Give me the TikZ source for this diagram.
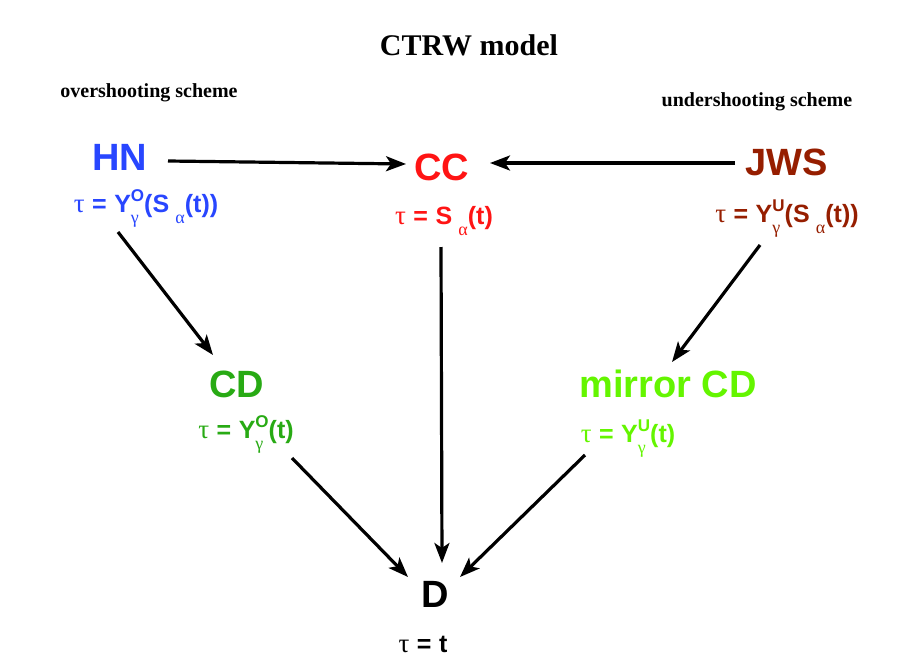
\documentclass[tikz,border=0pt]{standalone}
\usepackage{fontspec}
\setmainfont{Liberation Sans}
\newfontfamily\tms{Liberation Serif}
\usetikzlibrary{arrows.meta,calc}
\definecolor{hnblue}{RGB}{40,70,255}
\definecolor{ccred}{RGB}{255,20,20}
\definecolor{jwsred}{RGB}{150,30,0}
\definecolor{cdgreen}{RGB}{40,170,20}
\definecolor{mcdgreen}{RGB}{100,245,0}
\newcommand\fsz{\fontsize{25}{27}\selectfont}
\newcommand\ssz{\fontsize{17}{18}\selectfont}
\newcommand\gk[1]{{\tms\mdseries\fontsize{27}{28}\selectfont #1}}
\newcommand\gs[1]{{\tms\mdseries\fontsize{18}{19}\selectfont #1}}
\newcommand\YY[1]{Y\rlap{\raisebox{-0.45em}{\gs{γ}}}\raisebox{0.42em}{\ssz #1}}
\newcommand\Sa{S\hspace{0.25em}\raisebox{-0.45em}{\gs{α}}}
\newcommand\tq{\gk{τ}\hspace{0.3em}=\hspace{0.3em}}
\tikzset{
  lbl/.style={inner sep=0pt, anchor=base, font=\fontsize{38}{40}\selectfont\bfseries},
  frm/.style={inner sep=0pt, anchor=base, font=\fsz\bfseries},
  ttl/.style={inner sep=0pt, anchor=base, font=\tms\fontsize{30}{32}\selectfont\bfseries},
  sub/.style={inner sep=0pt, anchor=base, font=\tms\fontsize{20}{22}\selectfont\bfseries},
  arr/.style={line width=3.2pt, -{Stealth[length=20pt,width=15pt,inset=5pt]}}
}
\begin{document}
\begin{tikzpicture}[x=1pt,y=-1pt]
\useasboundingbox (0,0) rectangle (913,672);
\node[ttl] (title) at (469,55) {CTRW model};
\node[sub] (over) at (149,97) {overshooting scheme};
\node[sub] (under) at (757,106) {undershooting scheme};

\node[lbl,text=hnblue] (HN) at (120,170) {HN};
\node[lbl,text=ccred] (CC) at (442,180) {CC};
\node[lbl,text=jwsred] (JWS) at (787,175) {JWS};
\node[lbl,text=cdgreen] (CD) at (237,397) {CD};
\node[lbl,text=mcdgreen] (MCD) at (668,397) {mirror CD};
\node[lbl,text=black] (D) at (435,607) {D};

\node[frm,text=hnblue] (HNf) at (146,212) {\tq\YY{O}(\Sa(t))};
\node[frm,text=ccred] (CCf) at (444,224) {\tq\Sa(t)};
\node[frm,text=jwsred] (JWSf) at (787,222) {\tq\YY{U}(\Sa(t))};
\node[frm,text=cdgreen] (CDf) at (246,438) {\tq\YY{O}(t)};
\node[frm,text=mcdgreen] (MCDf) at (628,442) {\tq\YY{U}(t)};
\node[frm,text=black] (Df) at (423,652) {\tq t};

\draw[arr] ($(HN.base)+(48,-9)$) -- ($(CC.base)+(-36,-16)$);
\draw[arr] ($(JWS.base)+(-52,-12)$) -- ($(CC.base)+(48,-17)$);
\draw[arr] ($(HN.base)+(-2,62)$) -- ($(CD.base)+(-24,-42)$);
\draw[arr] ($(JWS.base)+(-27,70)$) -- ($(MCD.base)+(4,-35)$);
\draw[arr] ($(CC.base)+(-1,67)$) -- ($(D.base)+(7,-44)$);
\draw[arr] ($(CD.base)+(55,61)$) -- ($(D.base)+(-27,-30)$);
\draw[arr] ($(MCD.base)+(-83,58)$) -- ($(D.base)+(25,-30)$);
\end{tikzpicture}
\end{document}
